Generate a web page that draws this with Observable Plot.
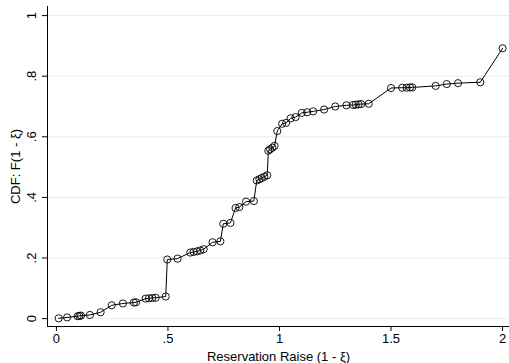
<!DOCTYPE html>
<html><head><meta charset="utf-8">
<script src="https://cdn.jsdelivr.net/npm/d3@7"></script>
<script src="https://cdn.jsdelivr.net/npm/@observablehq/plot@0.6"></script>
<style>body{margin:0;background:#fff;} #chart svg{display:block;}</style>
</head><body><div id="chart"></div>
<script>
const raise = [0.01, 0.048, 0.095, 0.103, 0.11, 0.15, 0.198, 0.248, 0.298, 0.347, 0.357,
  0.40, 0.415, 0.43, 0.445, 0.49, 0.497, 0.543, 0.60, 0.615, 0.63, 0.645, 0.66, 0.70, 0.735,
  0.748, 0.78, 0.803, 0.82, 0.85, 0.885, 0.898, 0.91, 0.92, 0.932, 0.945, 0.95, 0.958, 0.968,
  0.978, 0.99, 1.012, 1.03, 1.05, 1.072, 1.10, 1.124, 1.151, 1.20, 1.25, 1.30, 1.33, 1.342,
  1.354, 1.366, 1.40, 1.50, 1.55, 1.57, 1.585, 1.595, 1.70, 1.75, 1.80, 1.90, 2.0];
const cdf = [0.001, 0.004, 0.008, 0.009, 0.010, 0.012, 0.021, 0.044, 0.050, 0.053, 0.054,
  0.066, 0.067, 0.068, 0.069, 0.073, 0.195, 0.198, 0.218, 0.220, 0.222, 0.225, 0.229, 0.252, 0.255,
  0.313, 0.316, 0.365, 0.368, 0.386, 0.388, 0.456, 0.460, 0.464, 0.468, 0.473, 0.554, 0.559, 0.564,
  0.570, 0.619, 0.643, 0.646, 0.661, 0.665, 0.679, 0.681, 0.684, 0.690, 0.700, 0.704, 0.705, 0.706,
  0.707, 0.708, 0.709, 0.761, 0.762, 0.762, 0.763, 0.763, 0.768, 0.774, 0.777, 0.780, 0.892];
const xTicks = [0, 0.5, 1, 1.5, 2];
const xTickLabels = ["0", ".5", "1", "1.5", "2"];
const yTicks = [0, 0.2, 0.4, 0.6, 0.8, 1];
const yTickLabels = ["0", ".2", ".4", ".6", ".8", "1"];
const xTitle = "Reservation Raise (1 - ξ)";
const yTitle = "CDF: F(1 - ξ)";

const data = raise.map((x, i) => ({x, y: cdf[i]}));
const xDom = [-0.04, 2.031], yDom = [-0.026, 1.03];

const chart = Plot.plot({
  width: 509, height: 363,
  marginLeft: 47, marginRight: 0, marginTop: 6, marginBottom: 37,
  style: {fontFamily: "'Liberation Sans', Arial, sans-serif", fontSize: "13px", color: "#000", background: "#fff"},
  x: {domain: xDom},
  y: {domain: yDom},
  marks: [
    Plot.gridY(yTicks, {stroke: "#e4eeef", strokeOpacity: 1, strokeWidth: 1}),
    Plot.axisX(xTicks, {tickSize: 5, tickPadding: 2, stroke: "#000",
      tickFormat: d => xTickLabels[xTicks.indexOf(d)],
      label: xTitle, labelAnchor: "center", labelArrow: "none", labelOffset: 34}),
    Plot.axisY(yTicks, {tickSize: 5, tickRotate: -90, tickPadding: 7, stroke: "#000",
      tickFormat: d => yTickLabels[yTicks.indexOf(d)],
      label: yTitle, labelAnchor: "center", labelArrow: "none", labelOffset: 37}),
    Plot.ruleX([xDom[0]], {stroke: "#000", strokeWidth: 1}),
    Plot.ruleY([yDom[0]], {stroke: "#000", strokeWidth: 1}),
    Plot.line(data, {x: "x", y: "y", stroke: "#000", strokeWidth: 1}),
    Plot.dot(data, {x: "x", y: "y", r: 3.6, stroke: "#000", fill: "none", strokeWidth: 0.9})
  ]
});
document.getElementById("chart").appendChild(chart);
</script>
</body></html>
